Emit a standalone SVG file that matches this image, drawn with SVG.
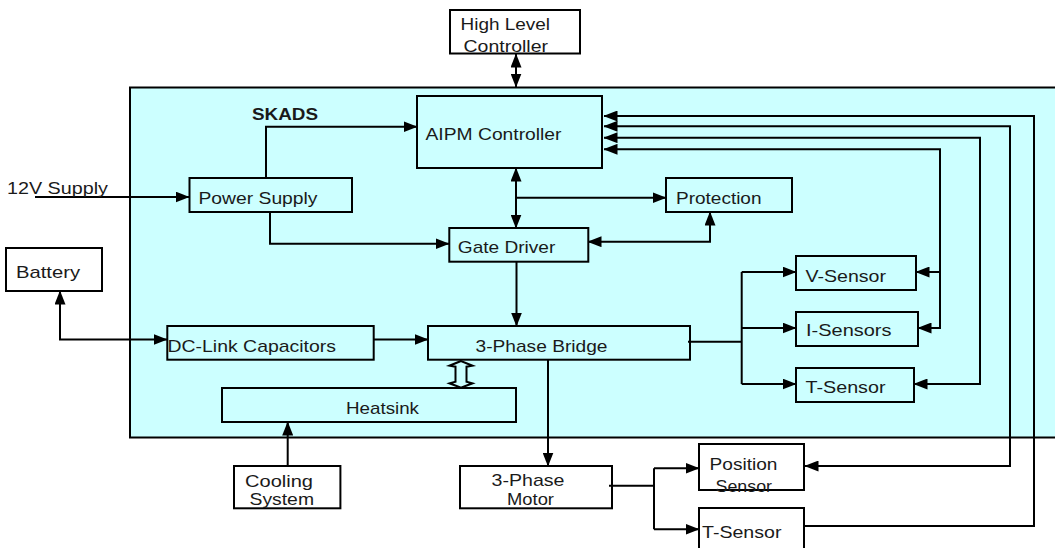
<svg xmlns="http://www.w3.org/2000/svg" width="1055" height="548" viewBox="0 0 1055 548">
<style>
.bx{fill:none;stroke:#000;stroke-width:2}
.ln{fill:none;stroke:#000;stroke-width:2}
.t{font-family:"Liberation Sans",Arial,sans-serif;font-size:17px;fill:#1a1a1a}
.b{font-weight:bold}
</style>
<defs>
<marker id="ah" markerUnits="userSpaceOnUse" viewBox="0 0 14 11" markerWidth="14" markerHeight="11" refX="13.5" refY="5.5" orient="auto-start-reverse">
<path d="M0,0 L14,5.5 L0,11 z" fill="#000"/>
</marker>
</defs>
<rect x="0" y="0" width="1055" height="548" fill="#fff"/>
<g id="skads">
<rect x="130" y="87.5" width="940" height="350" fill="#ccffff" stroke="#000" stroke-width="2"/>
<text class="t b" x="252" y="119.5" textLength="66" lengthAdjust="spacingAndGlyphs">SKADS</text>
</g>
<g id="connectors">
<path class="ln" d="M516,54 V87" marker-start="url(#ah)" marker-end="url(#ah)"/>
<path class="ln" d="M35,197 H189" marker-end="url(#ah)"/>
<path class="ln" d="M266,178 V126.7 H417" marker-end="url(#ah)"/>
<path class="ln" d="M270,212 V243.7 H449" marker-end="url(#ah)"/>
<path class="ln" d="M516,168 V228" marker-start="url(#ah)" marker-end="url(#ah)"/>
<path class="ln" d="M516,197.7 H666" marker-end="url(#ah)"/>
<path class="ln" d="M588,241.7 H710 V212" marker-start="url(#ah)" marker-end="url(#ah)"/>
<path class="ln" d="M604,149.3 H940 V328 H918" marker-start="url(#ah)" marker-end="url(#ah)"/>
<path class="ln" d="M940,272 H916" marker-end="url(#ah)"/>
<path class="ln" d="M604,137.7 H980 V384 H914" marker-start="url(#ah)" marker-end="url(#ah)"/>
<path class="ln" d="M604,126.3 H1010 V466 H805" marker-start="url(#ah)" marker-end="url(#ah)"/>
<path class="ln" d="M604,116 H1034 V526 H804" marker-start="url(#ah)"/>
<path class="ln" d="M60,291 V339.5 H167" marker-start="url(#ah)" marker-end="url(#ah)"/>
<path class="ln" d="M374,339.5 H428" marker-end="url(#ah)"/>
<path class="ln" d="M516.5,262 V326" marker-end="url(#ah)"/>
<path class="ln" d="M688,341.7 H741.7"/>
<path class="ln" d="M741.7,272 V384"/>
<path class="ln" d="M741.7,272 H796" marker-end="url(#ah)"/>
<path class="ln" d="M741.7,328 H796" marker-end="url(#ah)"/>
<path class="ln" d="M741.7,384 H796" marker-end="url(#ah)"/>
<path class="ln" d="M548,360 V466" marker-end="url(#ah)"/>
<path class="ln" d="M287.7,466 V422" marker-end="url(#ah)"/>
<path class="ln" d="M609,485.7 H654"/>
<path class="ln" d="M654,468.3 V529.3"/>
<path class="ln" d="M654,468.3 H699" marker-end="url(#ah)"/>
<path class="ln" d="M654,529.3 H699" marker-end="url(#ah)"/>
<path class="ln" d="M461,361 L449.5,365.7 L455.5,366.7 L455.5,381.7 L449.5,383.3 L461,387.7 L472.5,383.3 L466.5,381.7 L466.5,366.7 L472.5,365.7 Z"/>
</g>
<g id="hlc">
<rect class="bx" x="450" y="10" width="130" height="43.5"/>
<text class="t" x="460.5" y="30" textLength="89.5" lengthAdjust="spacingAndGlyphs">High Level</text>
<text class="t" x="463.5" y="51.5" textLength="84.5" lengthAdjust="spacingAndGlyphs">Controller</text>
</g>
<g id="aipm">
<rect class="bx" x="417" y="96" width="185" height="72"/>
<text class="t" x="425.5" y="140" textLength="136" lengthAdjust="spacingAndGlyphs">AIPM Controller</text>
</g>
<g id="supply12v">
<text class="t" x="7" y="194" textLength="101" lengthAdjust="spacingAndGlyphs">12V Supply</text>
</g>
<g id="powersupply">
<rect class="bx" x="189.5" y="178" width="162.5" height="34"/>
<text class="t" x="198.5" y="204.3" textLength="119" lengthAdjust="spacingAndGlyphs">Power Supply</text>
</g>
<g id="protection">
<rect class="bx" x="666" y="178" width="126" height="34"/>
<text class="t" x="676" y="203.5" textLength="85.5" lengthAdjust="spacingAndGlyphs">Protection</text>
</g>
<g id="gatedriver">
<rect class="bx" x="449.3" y="228" width="139" height="33.7"/>
<text class="t" x="457.8" y="253.3" textLength="97.5" lengthAdjust="spacingAndGlyphs">Gate Driver</text>
</g>
<g id="battery">
<rect class="bx" x="6" y="248" width="96" height="43"/>
<text class="t" x="16" y="278.3" textLength="64" lengthAdjust="spacingAndGlyphs">Battery</text>
</g>
<g id="vsensor">
<rect class="bx" x="796" y="256" width="120" height="34"/>
<text class="t" x="805.5" y="281.7" textLength="80.5" lengthAdjust="spacingAndGlyphs">V-Sensor</text>
</g>
<g id="dclink">
<rect class="bx" x="167.3" y="326" width="206.4" height="33.7"/>
<text class="t" x="167.5" y="351.7" textLength="168.5" lengthAdjust="spacingAndGlyphs">DC-Link Capacitors</text>
</g>
<g id="bridge">
<rect class="bx" x="428" y="326" width="262" height="33.7"/>
<text class="t" x="475.5" y="351.7" textLength="132" lengthAdjust="spacingAndGlyphs">3-Phase Bridge</text>
</g>
<g id="isensors">
<rect class="bx" x="796" y="312" width="122" height="34"/>
<text class="t" x="806" y="336" textLength="85.5" lengthAdjust="spacingAndGlyphs">I-Sensors</text>
</g>
<g id="tsensor">
<rect class="bx" x="796" y="368" width="118" height="34"/>
<text class="t" x="805.5" y="393.3" textLength="80" lengthAdjust="spacingAndGlyphs">T-Sensor</text>
</g>
<g id="heatsink">
<rect class="bx" x="222" y="388" width="294" height="34"/>
<text class="t" x="346" y="414" textLength="73" lengthAdjust="spacingAndGlyphs">Heatsink</text>
</g>
<g id="cooling">
<rect class="bx" x="234" y="466" width="106.4" height="42.3"/>
<text class="t" x="245" y="486.7" textLength="68" lengthAdjust="spacingAndGlyphs">Cooling</text>
<text class="t" x="249.5" y="505" textLength="64.5" lengthAdjust="spacingAndGlyphs">System</text>
</g>
<g id="motor">
<rect class="bx" x="460" y="466" width="152" height="42.3"/>
<text class="t" x="491.5" y="485.7" textLength="73" lengthAdjust="spacingAndGlyphs">3-Phase</text>
<text class="t" x="507" y="505" textLength="47" lengthAdjust="spacingAndGlyphs">Motor</text>
</g>
<g id="possensor">
<rect class="bx" x="699" y="444" width="105" height="46"/>
<text class="t" x="709.5" y="470" textLength="68" lengthAdjust="spacingAndGlyphs">Position</text>
<text class="t" x="715.5" y="492" textLength="56.5" lengthAdjust="spacingAndGlyphs">Sensor</text>
</g>
<g id="tsensor2">
<rect class="bx" x="699" y="508" width="105" height="46"/>
<text class="t" x="702" y="538.3" textLength="79.5" lengthAdjust="spacingAndGlyphs">T-Sensor</text>
</g>
</svg>
